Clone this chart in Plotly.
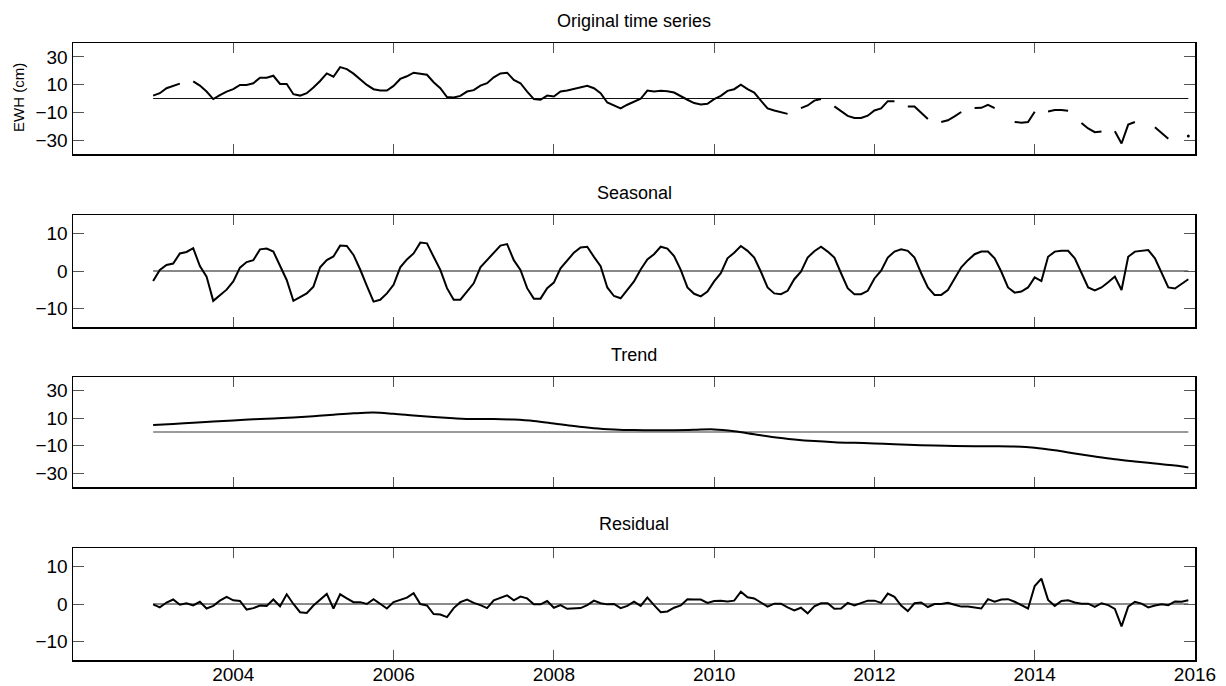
import plotly.graph_objects as go

# ---------------- data (monthly, Jan 2003 .. Dec 2015) ----------------
start_year = 2003
n_months = 156
t = [start_year + m / 12 for m in range(n_months)]

original = [
    2.1, 3.8, 7.4, 9.0, 10.7, None, 12.4, 9.3, 5.0, -0.4, 2.5, 5.0,          # 2003
    6.7, 9.8, 9.8, 11.0, 15.0, 15.0, 16.4, 10.5, 10.5, 3.1, 2.1, 3.8,        # 2004
    7.9, 12.6, 18.1, 15.7, 22.6, 21.2, 17.9, 14.1, 9.8, 6.7, 5.7, 5.7,       # 2005
    9.1, 14.1, 16.0, 18.6, 18.0, 17.1, 11.7, 7.4, 1.0, 0.7, 1.9, 5.0,        # 2006
    6.0, 9.3, 11.0, 15.3, 18.1, 18.6, 13.4, 11.0, 5.0, -0.4, -0.9, 2.1,      # 2007
    1.4, 5.0, 5.7, 6.9, 8.1, 9.1, 7.4, 3.9, -2.9, -5.0, -7.1, -4.5,          # 2008
    -2.1, -0.2, 5.7, 5.0, 5.5, 5.3, 4.3, 1.4, -0.9, -3.3, -4.3, -3.8,        # 2009
    -0.4, 1.9, 5.5, 6.7, 10.0, 6.7, 4.3, -1.6, -7.1, -8.6, -9.7, -11.1,      # 2010
    None, -6.9, -5.0, -1.5, -0.4, None, -5.7, -9.0, -12.5, -14.0, -14.0, -12.4,  # 2011
    -8.6, -7.1, -1.9, -1.9, None, -5.7, -5.7, -10.3, -14.7, None, -16.9, -15.7,  # 2012
    -12.9, -9.7, None, -6.9, -6.7, -4.5, -6.9, None, None, -16.9, -17.4, -17.0,  # 2013
    -9.5, None, -9.3, -8.3, -8.3, -8.8, None, -17.6, -21.6, -24.3, -23.8, None,  # 2014
    -23.6, -32.4, -18.8, -16.9, None, None, -20.7, -24.8, -29.0, None, None, -27.0,  # 2015
]

seasonal = [
    -2.7, 0.3, 1.6, 2.0, 4.7, 5.1, 6.1, 1.3, -1.5, -8.0, -6.5, -5.0,
    -2.8, 0.9, 2.4, 2.9, 5.8, 6.0, 5.2, 1.2, -2.4, -8.0, -7.0, -6.0,
    -4.2, 1.0, 2.9, 3.9, 6.8, 6.7, 4.3, 0.4, -4.0, -8.2, -7.7, -6.0,
    -3.7, 1.0, 3.1, 4.7, 7.6, 7.4, 3.8, 0.3, -4.6, -7.7, -7.7, -5.5,
    -3.3, 1.0, 2.9, 4.7, 6.8, 7.2, 2.9, 0.3, -4.6, -7.4, -7.4, -4.6,
    -3.1, 0.7, 2.9, 4.9, 6.3, 6.5, 3.8, 1.3, -4.4, -6.7, -7.3, -5.1,
    -2.8, 0.4, 3.1, 4.5, 6.5, 6.0, 4.0, 0.3, -4.4, -6.1, -6.8, -5.5,
    -2.8, -0.6, 3.4, 4.9, 6.7, 5.4, 3.6, -0.2, -4.4, -6.0, -6.2, -5.3,
    -2.2, -0.2, 3.6, 5.3, 6.5, 5.2, 3.6, -0.6, -4.6, -6.2, -6.2, -5.3,
    -2.0, 0.1, 3.6, 5.2, 5.8, 5.4, 3.6, -0.6, -4.4, -6.4, -6.4, -5.1,
    -2.0, 1.0, 2.9, 4.5, 5.2, 5.2, 3.4, -0.2, -4.4, -5.8, -5.5, -4.4,
    -1.7, -2.7, 3.8, 5.2, 5.4, 5.4, 3.4, -0.6, -4.4, -5.2, -4.4, -3.0,
    -1.5, -5.1, 3.8, 5.2, 5.4, 5.6, 3.4, -0.6, -4.4, -4.7, -3.5, -2.2,
]

# trend read at quarterly knots (smooth curve)
trend_t = [2003 + q / 4 for q in range(52)] + [2015 + 11 / 12]
trend = [
    5.0, 5.9, 6.8, 7.6, 8.4, 9.2, 9.9, 10.6, 11.5, 12.6, 13.6, 14.1,
    13.2, 12.0, 10.9, 10.0, 9.4, 9.5, 9.0, 8.0, 6.2, 4.3, 2.8, 1.9,
    1.4, 1.2, 1.3, 1.6, 1.9, 0.6, -1.6, -3.8, -5.4, -6.6, -7.4, -7.9,
    -8.3, -8.9, -9.4, -9.9, -10.2, -10.4, -10.4, -10.6, -11.5, -13.3, -15.6, -17.8,
    -19.8, -21.4, -22.9, -24.4, -25.8,
]

residual = [
    -0.1, -0.9, 0.4, 1.2, -0.2, 0.2, -0.4, 0.6, -1.2, -0.5, 0.9, 1.9,
    1.0, 0.8, -1.5, -1.1, -0.4, -0.5, 1.2, -0.6, 2.6, 0.0, -2.2, -2.4,
    -0.4, 1.1, 2.7, -1.2, 2.6, 1.5, 0.5, 0.5, 0.0, 1.3, 0.1, -1.2,
    0.5, 1.2, 1.7, 2.9, 0.0, -0.4, -2.7, -2.8, -3.5, -1.1, 0.5, 1.2,
    0.3, -0.3, -1.1, 1.0, 1.6, 2.3, 1.0, 2.0, 1.5, -0.1, -0.1, 0.8,
    -1.0, -0.3, -1.3, -1.3, -1.1, -0.3, 0.9, 0.2, -0.1, 0.0, -1.1, -0.5,
    0.6, -0.5, 1.7, -0.3, -2.2, -2.0, -1.0, -0.4, 1.3, 1.2, 1.2, 0.3,
    0.8, 0.9, 0.7, 0.9, 3.3, 1.8, 1.5, 0.4, -0.7, 0.1, 0.1, -0.9,
    -1.7, -1.0, -2.5, -0.6, 0.2, 0.2, -1.3, -1.2, 0.3, -0.4, 0.2, 0.9,
    0.9, 0.3, 2.8, 1.9, -0.4, -1.9, 0.2, 0.4, -0.8, 0.0, 0.0, 0.3,
    -0.2, -0.7, -0.7, -0.9, -1.2, 1.3, 0.6, 1.2, 1.3, 0.6, -0.4, -1.2,
    4.8, 6.8, 1.1, -0.5, 0.8, 1.0, 0.4, 0.1, 0.1, -0.8, 0.2, -0.3,
    -1.3, -6.0, -0.7, 0.6, 0.1, -0.9, -0.4, -0.1, -0.3, 0.7, 0.6, 1.0,
]

titles = ["Original time series", "Seasonal", "Trend", "Residual"]
y_ranges = [[-40, 40], [-15, 15], [-40, 40], [-15, 15]]
y_ticks = [[-30, -10, 10, 30], [-10, 0, 10], [-30, -10, 10, 30], [-10, 0, 10]]
x_ticks = [2004, 2006, 2008, 2010, 2012, 2014, 2016]
x_range = [2002, 2016]
y_label = "EWH (cm)"

# ---------------- layout geometry ----------------
W, H = 1226, 686
LEFT, RIGHT = 73, 1195
panels = [(43, 154), (215, 327), (377, 487), (548, 660)]
title_y = [21, 193, 355, 524]
zero_styles = [("#111111", 1), ("#111111", 1), ("#7a7a7a", 1.5), ("#8a8a8a", 2)]
FONT = "Liberation Sans, Arial, Helvetica, sans-serif"

fig = go.Figure()

series = [(t, original, "linear"), (t, seasonal, "linear"),
          (trend_t, trend, "spline"), (t, residual, "linear")]

for i, (xs, ys, shape) in enumerate(series):
    ax = "" if i == 0 else str(i + 1)
    zc, zw = zero_styles[i]
    fig.add_trace(go.Scatter(x=[t[0], t[-1]], y=[0, 0], mode="lines",
                             line=dict(color=zc, width=zw),
                             xaxis="x" + ax, yaxis="y" + ax,
                             showlegend=False, hoverinfo="skip"))
    fig.add_trace(go.Scatter(x=xs, y=ys, mode="lines",
                             line=dict(color="black", width=2, shape=shape),
                             connectgaps=False,
                             xaxis="x" + ax, yaxis="y" + ax, showlegend=False))

# isolated points of the original series (drawn as dots)
iso_x, iso_y = [], []
for k, v in enumerate(original):
    if v is None:
        continue
    prev_none = k == 0 or original[k - 1] is None
    next_none = k == len(original) - 1 or original[k + 1] is None
    if prev_none and next_none:
        iso_x.append(t[k])
        iso_y.append(v)
fig.add_trace(go.Scatter(x=iso_x, y=iso_y, mode="markers",
                         marker=dict(color="black", size=3),
                         xaxis="x", yaxis="y", showlegend=False))

layout = dict(
    width=W, height=H, autosize=False,
    margin=dict(l=0, r=0, t=0, b=0, pad=0),
    paper_bgcolor="white", plot_bgcolor="white",
    font=dict(family=FONT, color="black", size=19),
    showlegend=False,
)

for i, (top, bot) in enumerate(panels):
    ax = "" if i == 0 else str(i + 1)
    layout["xaxis" + ax] = dict(
        domain=[LEFT / W, RIGHT / W], range=x_range, tickvals=x_ticks,
        ticks="inside", ticklen=10, tickwidth=1, tickcolor="#555555",
        showline=True, linecolor="black", linewidth=1.5, mirror="allticks",
        showgrid=False, zeroline=False, anchor="y" + ax, automargin=False,
        showticklabels=(i == 3), tickfont=dict(size=19, family=FONT),
        ticklabelstandoff=-3,
    )
    layout["yaxis" + ax] = dict(
        domain=[1 - bot / H, 1 - top / H], range=y_ranges[i], tickvals=y_ticks[i],
        ticks="inside", ticklen=11, tickwidth=1, tickcolor="#555555",
        showline=True, linecolor="black", linewidth=1.5, mirror="allticks",
        showgrid=False, zeroline=False, anchor="x" + ax, automargin=False,
        tickfont=dict(size=19, family=FONT), ticklabelstandoff=0,
    )

annotations = []
for i, title in enumerate(titles):
    annotations.append(dict(text=title, xref="paper", yref="paper",
                            x=(LEFT + RIGHT) / 2 / W, y=1 - title_y[i] / H,
                            xanchor="center", yanchor="middle", showarrow=False,
                            font=dict(size=18, family=FONT)))
annotations.append(dict(text=y_label, xref="paper", yref="paper",
                        x=19 / W, y=1 - 98 / H, textangle=-90,
                        xanchor="center", yanchor="middle", showarrow=False,
                        font=dict(size=15, family=FONT)))
layout["annotations"] = annotations

fig.update_layout(**layout)
fig.write_html(
    "out.html",
    config={"responsive": False, "displayModeBar": False, "staticPlot": True},
    default_width=f"{W}px", default_height=f"{H}px",
    post_script="document.body.style.margin='0';document.body.style.padding='0';"
                "document.documentElement.style.overflow='hidden';"
                "document.body.style.overflow='hidden';",
)
